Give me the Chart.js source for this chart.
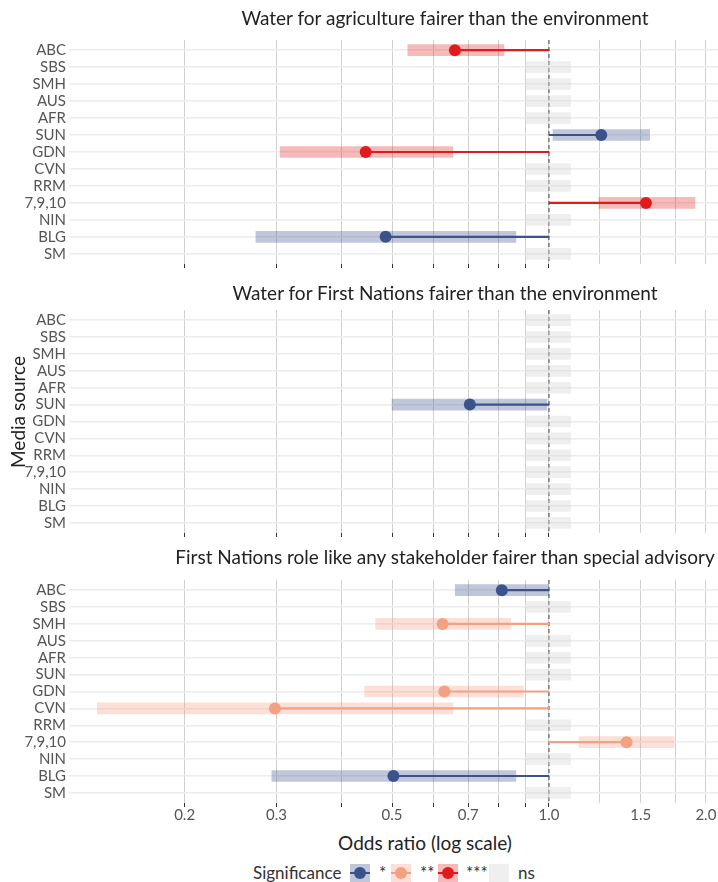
<!DOCTYPE html>
<html>
<head>
<meta charset="utf-8">
<script src="https://cdn.jsdelivr.net/npm/chart.js@4.4.1/dist/chart.umd.min.js"></script>
<style>
  body { margin: 0; background: #fff; font-family: Lato, sans-serif; }
  #page { position: relative; width: 718px; height: 882px; overflow: hidden; }
  canvas { position: absolute; left: 0; }
  .ttl { position: absolute; left: 145px; width: 600px; text-align: center; font-size: 19px; line-height: 22px; color: #222; white-space: nowrap; }
  .ytitle { position: absolute; left: -82px; top: 401px; width: 200px; line-height: 22px; text-align: center; font-size: 19px; color: #222; transform: rotate(-90deg); }
  .lg { position: absolute; top: 862px; line-height: 22px; font-size: 17px; color: #333; }
  .key { position: absolute; top: 864px; width: 20px; height: 18px; }
  .key b { position: absolute; left: 0; right: 0; top: 8px; height: 1.5px; }
  .key i { position: absolute; left: 4px; top: 3px; width: 12px; height: 12px; border-radius: 50%; }
</style>
</head>
<body>
<div id="page">
  <canvas id="agri" width="718" height="280" style="top:0px"></canvas>
  <canvas id="fn" width="718" height="270" style="top:280px"></canvas>
  <canvas id="role" width="718" height="280" style="top:550px"></canvas>

  <div class="ttl" style="top:7px">Water for agriculture fairer than the environment</div>
  <div class="ttl" style="top:282px">Water for First Nations fairer than the environment</div>
  <div class="ttl" style="top:546px">First Nations role like any stakeholder fairer than special advisory</div>
  <div class="ytitle">Media source</div>
  <div class="ttl" style="top:832px;left:125px">Odds ratio (log scale)</div>

  <div class="lg" style="left:253px">Significance</div>
  <div class="key" style="left:350px;background:rgba(59,82,139,0.32)"><b style="background:#3b528b"></b><i style="background:#3b528b"></i></div>
  <div class="lg" style="left:379px">*</div>
  <div class="key" style="left:391px;background:rgba(244,150,120,0.3)"><b style="background:#f4a183"></b><i style="background:#f4a183"></i></div>
  <div class="lg" style="left:420px">**</div>
  <div class="key" style="left:438px;background:rgba(227,26,28,0.3)"><b style="background:#e31a1c"></b><i style="background:#e31a1c"></i></div>
  <div class="lg" style="left:466px">***</div>
  <div class="key" style="left:489px;background:#efefef"></div>
  <div class="lg" style="left:518px">ns</div>
</div>

<script>
// media sources, top to bottom
const categories = ['ABC', 'SBS', 'SMH', 'AUS', 'AFR', 'SUN', 'GDN', 'CVN', 'RRM', '7,9,10', 'NIN', 'BLG', 'SM'];

// Water for agriculture fairer than the environment
const agriOdds = [0.66, null, null, null, null, 1.26, 0.445, null, null, 1.535, null, 0.486, null];
const agriLow  = [0.536, null, null, null, null, 1.018, 0.305, null, null, 1.247, null, 0.274, null];
const agriHigh = [0.82, null, null, null, null, 1.56, 0.654, null, null, 1.906, null, 0.864, null];
const agriSig  = ['***', 'ns', 'ns', 'ns', 'ns', '*', '***', 'ns', 'ns', '***', 'ns', '*', 'ns'];

// Water for First Nations fairer than the environment
const fnOdds = [null, null, null, null, null, 0.705, null, null, null, null, null, null, null];
const fnLow  = [null, null, null, null, null, 0.5, null, null, null, null, null, null, null];
const fnHigh = [null, null, null, null, null, 0.991, null, null, null, null, null, null, null];
const fnSig  = ['ns', 'ns', 'ns', 'ns', 'ns', '*', 'ns', 'ns', 'ns', 'ns', 'ns', 'ns', 'ns'];

// First Nations role like any stakeholder fairer than special advisory
const roleOdds = [0.812, null, 0.625, null, null, null, 0.63, 0.298, null, 1.409, null, 0.503, null];
const roleLow  = [0.661, null, 0.465, null, null, null, 0.443, 0.136, null, 1.142, null, 0.294, null];
const roleHigh = [1.0, null, 0.844, null, null, null, 0.893, 0.654, null, 1.738, null, 0.864, null];
const roleSig  = ['*', 'ns', '**', 'ns', 'ns', 'ns', '**', '**', 'ns', '**', 'ns', '*', 'ns'];

const nsSpan = [0.9, 1.1];
const tickValues = [0.2, 0.3, 0.4, 0.5, 0.6, 0.7, 0.8, 0.9, 1.0, 1.25, 1.5, 1.75, 2.0];
const tickLabels = [0.2, 0.3, 0.5, 0.7, 1.0, 1.5, 2.0];

const sigColor = { '*': '#3b528b', '**': '#f4a183', '***': '#e31a1c' };
const sigFill = { '*': 'rgba(59,82,139,0.32)', '**': 'rgba(244,150,120,0.3)', '***': 'rgba(227,26,28,0.3)' };

Chart.defaults.font.family = 'Lato, sans-serif';
Chart.defaults.font.size = 15;
Chart.defaults.color = '#555';

const refLine = {
  id: 'refLine',
  beforeDatasetsDraw(chart) {
    const { ctx, chartArea, scales } = chart;
    const px = scales.x.getPixelForValue(1);
    ctx.save();
    ctx.strokeStyle = '#444';
    ctx.lineWidth = 1;
    ctx.setLineDash([4, 3]);
    ctx.beginPath();
    ctx.moveTo(px, chartArea.top);
    ctx.lineTo(px, chartArea.bottom);
    ctx.stroke();
    ctx.restore();
  }
};

function makePanel(id, odds, low, high, sig, showLabels, padTop, axisHeight) {
  const rows = categories.map((c, i) => i).filter(i => sig[i] !== 'ns');
  const nsRows = categories.map((c, i) => i).filter(i => sig[i] === 'ns');

  new Chart(document.getElementById(id), {
    type: 'bar',
    data: {
      datasets: [
        {
          data: nsRows.map(i => ({ y: i, x: nsSpan })),
          backgroundColor: 'rgba(215,215,215,0.4)',
          barThickness: 11, grouped: false, order: 4
        },
        {
          data: rows.map(i => ({ y: i, x: [low[i], high[i]] })),
          backgroundColor: rows.map(i => sigFill[sig[i]]),
          barThickness: 11, grouped: false, order: 3
        },
        {
          data: rows.map(i => ({ y: i, x: [odds[i], 1] })),
          backgroundColor: rows.map(i => sigColor[sig[i]]),
          barThickness: 1.5, grouped: false, order: 2
        },
        {
          type: 'scatter',
          data: rows.map(i => ({ x: odds[i], y: i })),
          pointBackgroundColor: rows.map(i => sigColor[sig[i]]),
          pointBorderWidth: 0,
          pointRadius: 6,
          order: 1
        }
      ]
    },
    options: {
      responsive: false,
      animation: false,
      indexAxis: 'y',
      layout: { autoPadding: false, padding: { top: padTop, left: 0, right: 0, bottom: 0 } },
      plugins: { legend: { display: false }, tooltip: { enabled: false } },
      scales: {
        x: {
          type: 'logarithmic',
          min: 0.12,
          max: 2.11,
          afterBuildTicks: s => { s.ticks = tickValues.map(v => ({ value: v })); },
          afterFit: s => { s.height = axisHeight; s.paddingLeft = 0; s.paddingRight = 0; },
          border: { display: false },
          grid: {
            color: '#d0d0d0',
            lineWidth: 1,
            tickLength: 4,
            tickColor: c => (c.tick && c.tick.value <= 1 ? '#333' : 'rgba(0,0,0,0)')
          },
          ticks: {
            display: showLabels,
            autoSkip: false,
            maxRotation: 0,
            padding: -1,
            color: '#555',
            callback: v => (tickLabels.includes(v) ? v.toFixed(1) : '')
          }
        },
        y: {
          type: 'linear',
          reverse: true,
          offset: false,
          min: -0.6,
          max: 12.6,
          afterBuildTicks: s => { s.ticks = categories.map((c, i) => ({ value: i })); },
          afterFit: s => { s.width = 69; },
          border: { display: false },
          grid: { color: '#ececec', lineWidth: 1.5, drawTicks: false, offset: false },
          ticks: { autoSkip: false, padding: 3, color: '#555', callback: v => categories[v] }
        }
      }
    },
    plugins: [refLine]
  });
}

makePanel('agri', agriOdds, agriLow, agriHigh, agriSig, false, 40, 16);
makePanel('fn', fnOdds, fnLow, fnHigh, fnSig, false, 30, 17);
makePanel('role', roleOdds, roleLow, roleHigh, roleSig, true, 30, 27);
</script>
</body>
</html>
